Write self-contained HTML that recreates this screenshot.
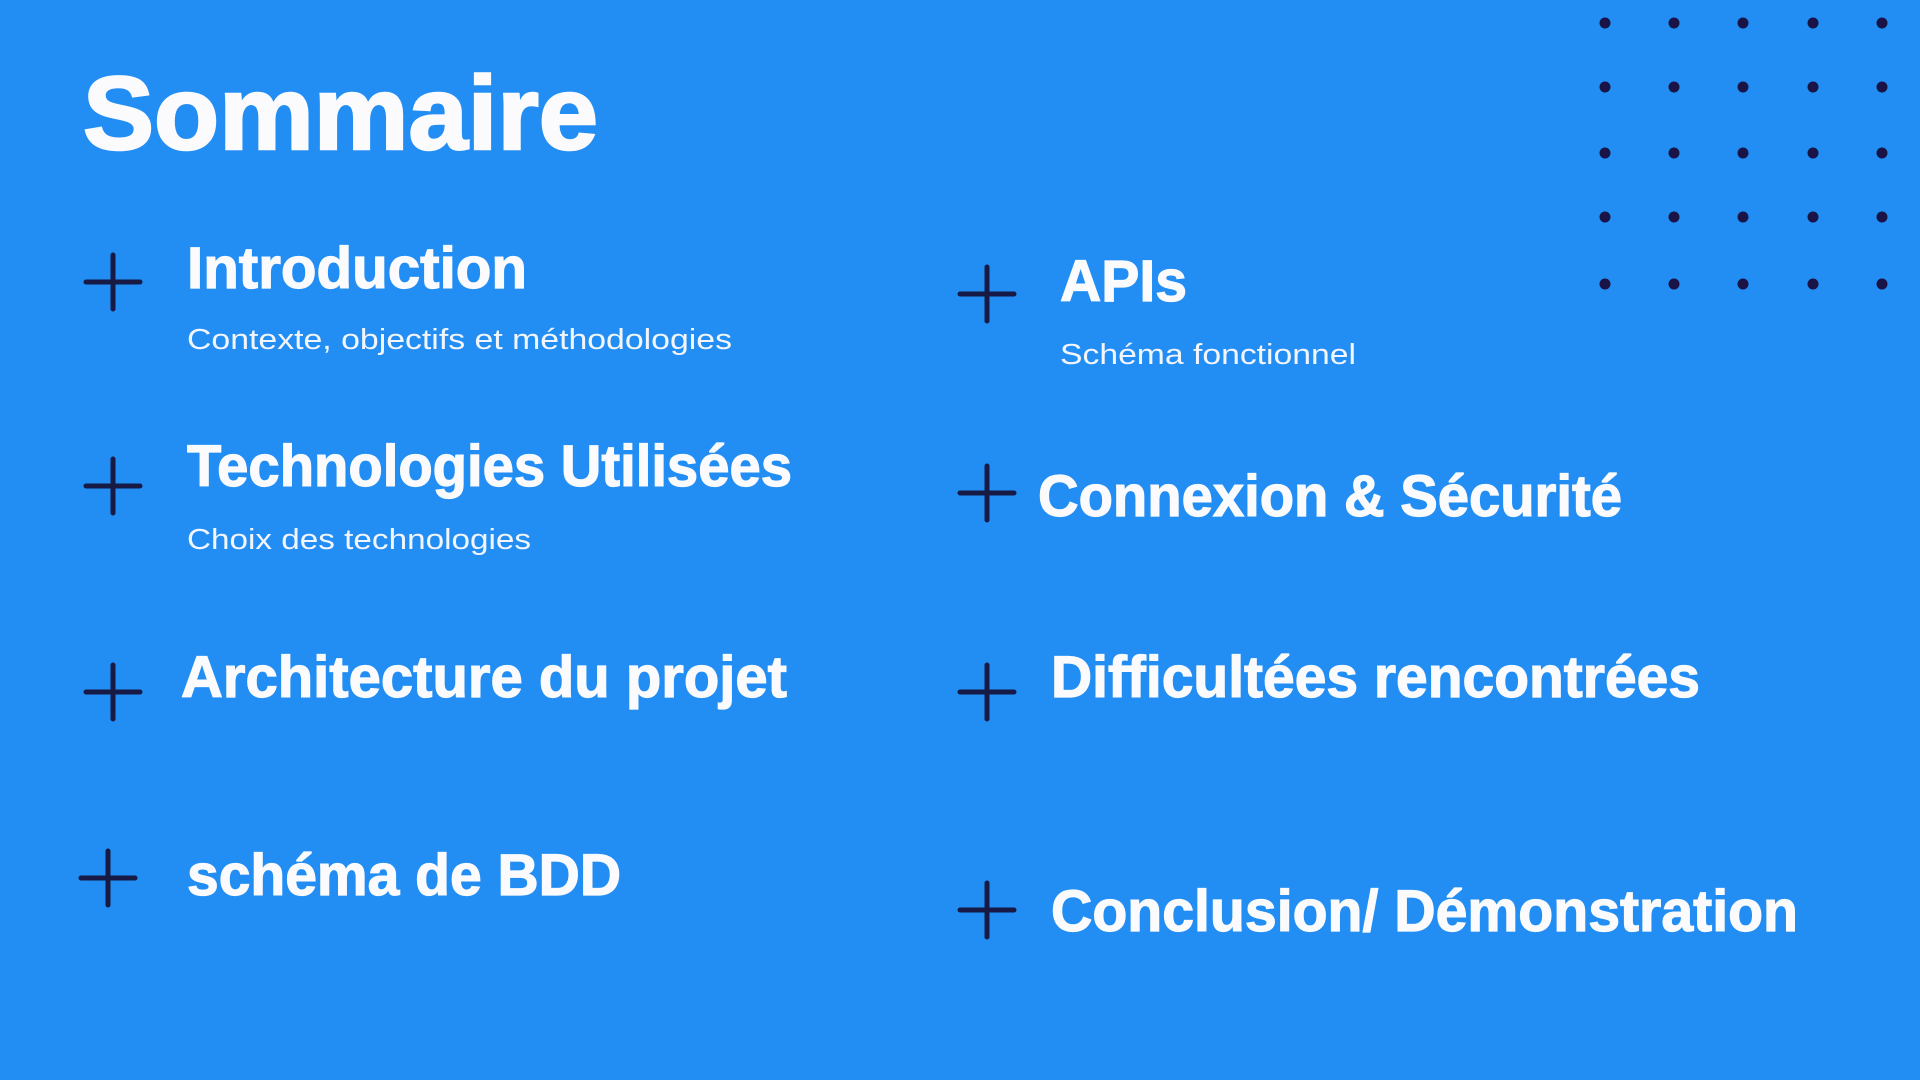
<!DOCTYPE html>
<html><head><meta charset="utf-8"><style>
html,body{margin:0;padding:0;width:1920px;height:1080px;overflow:hidden;background:#228ef4;}
svg{display:block}
.h{font-family:"Liberation Sans",sans-serif;font-weight:bold;fill:#fbfbfd;stroke:#fbfbfd;stroke-width:1.2px;}
.t{stroke-width:2.5px;}
.s{font-family:"Liberation Sans",sans-serif;fill:#f2f6fc;font-size:29px;}
</style></head><body>
<svg width="1920" height="1080" viewBox="0 0 1920 1080" xmlns="http://www.w3.org/2000/svg">
<rect width="1920" height="1080" fill="#228ef4"/>
<g fill="#1a1446">
<circle cx="1605" cy="23" r="5.5"/><circle cx="1674" cy="23" r="5.5"/><circle cx="1743" cy="23" r="5.5"/><circle cx="1813" cy="23" r="5.5"/><circle cx="1882" cy="23" r="5.5"/>
<circle cx="1605" cy="87" r="5.5"/><circle cx="1674" cy="87" r="5.5"/><circle cx="1743" cy="87" r="5.5"/><circle cx="1813" cy="87" r="5.5"/><circle cx="1882" cy="87" r="5.5"/>
<circle cx="1605" cy="153" r="5.5"/><circle cx="1674" cy="153" r="5.5"/><circle cx="1743" cy="153" r="5.5"/><circle cx="1813" cy="153" r="5.5"/><circle cx="1882" cy="153" r="5.5"/>
<circle cx="1605" cy="217" r="5.5"/><circle cx="1674" cy="217" r="5.5"/><circle cx="1743" cy="217" r="5.5"/><circle cx="1813" cy="217" r="5.5"/><circle cx="1882" cy="217" r="5.5"/>
<circle cx="1605" cy="284" r="5.5"/><circle cx="1674" cy="284" r="5.5"/><circle cx="1743" cy="284" r="5.5"/><circle cx="1813" cy="284" r="5.5"/><circle cx="1882" cy="284" r="5.5"/>
</g>
<g stroke="#161a45" stroke-width="5" stroke-linecap="round">
<path d="M86 282h54M113 255v54"/>
<path d="M86 486h54M113 459v54"/>
<path d="M86 692h54M113 665v54"/>
<path d="M81 878h54M108 851v54"/>
<path d="M960 294h54M987 267v54"/>
<path d="M960 493h54M987 466v54"/>
<path d="M960 692h54M987 665v54"/>
<path d="M960 910h54M987 883v54"/>
</g>
<text class="h t" x="83" y="149" font-size="104" textLength="515" lengthAdjust="spacingAndGlyphs">Sommaire</text>
<text class="h" x="187" y="288" font-size="58" textLength="340" lengthAdjust="spacingAndGlyphs">Introduction</text>
<text class="s" x="187" y="349" textLength="545" lengthAdjust="spacingAndGlyphs">Contexte, objectifs et méthodologies</text>
<text class="h" x="187" y="486" font-size="58" textLength="605" lengthAdjust="spacingAndGlyphs">Technologies Utilisées</text>
<text class="s" x="187" y="549" textLength="344" lengthAdjust="spacingAndGlyphs">Choix des technologies</text>
<text class="h" x="181" y="697" font-size="58" textLength="606" lengthAdjust="spacingAndGlyphs">Architecture du projet</text>
<text class="h" x="187" y="895" font-size="58" textLength="434" lengthAdjust="spacingAndGlyphs">schéma de BDD</text>
<text class="h" x="1060" y="301" font-size="58" textLength="127" lengthAdjust="spacingAndGlyphs">APIs</text>
<text class="s" x="1060" y="364" textLength="296" lengthAdjust="spacingAndGlyphs">Schéma fonctionnel</text>
<text class="h" x="1038" y="516" font-size="58" textLength="584" lengthAdjust="spacingAndGlyphs">Connexion &amp; Sécurité</text>
<text class="h" x="1051" y="697" font-size="58" textLength="649" lengthAdjust="spacingAndGlyphs">Difficultées rencontrées</text>
<text class="h" x="1051" y="931" font-size="58" textLength="747" lengthAdjust="spacingAndGlyphs">Conclusion/ Démonstration</text>
</svg>
</body></html>
